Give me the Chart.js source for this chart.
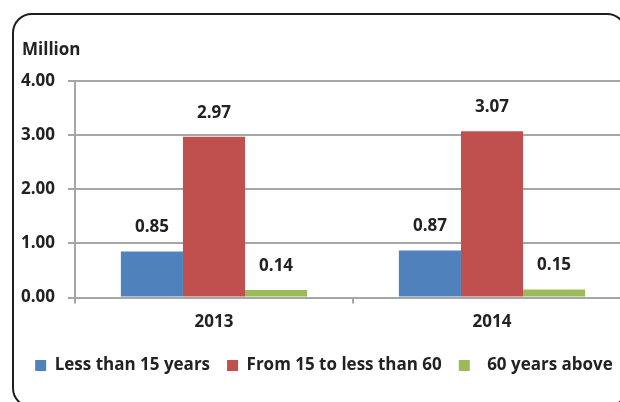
<!DOCTYPE html>
<html>
<head>
<meta charset="utf-8">
<script src="https://cdn.jsdelivr.net/npm/chart.js@4"></script>
<style>
  html, body { margin: 0; padding: 0; background: #fff; overflow: hidden; }
  body { width: 620px; height: 402px; position: relative; }
  #frame {
    position: absolute; left: 12px; top: 13px; width: 615px; height: 395px;
    border: 2px solid #1e1e1e; border-radius: 20px; box-sizing: border-box;
  }
  #wrap { position: absolute; left: 0; top: 0; width: 660px; height: 402px; }
</style>
</head>
<body>
<div id="frame"></div>
<div id="wrap"><canvas id="chart" width="660" height="402"></canvas></div>
<script>
"use strict";

// ── Data ────────────────────────────────────────────────────────────────────
const YEARS = ["2013", "2014"];
const SERIES_NAMES = ["Less than 15 years", "From 15 to less than 60", "  60 years above"];
const UNDER_15 = [0.85, 0.87];
const FROM_15_TO_60 = [2.97, 3.07];
const OVER_60 = [0.14, 0.15];
const Y_TICKS = [0, 1, 2, 3, 4];

// ── Styles ──────────────────────────────────────────────────────────────────
const COLORS = ["#4F81BD", "#C0504D", "#9BBB59"];
const GRID = "#a6a6a6";
const TEXT = "#222";
const FONT = { family: "'Open Sans', sans-serif", size: 17, weight: "bold" };

// value labels above each bar
const valueLabels = {
  id: "valueLabels",
  afterDatasetsDraw(chart) {
    const ctx = chart.ctx;
    ctx.save();
    ctx.font = `bold ${FONT.size}px ${FONT.family}`;
    ctx.fillStyle = TEXT;
    ctx.textAlign = "center";
    ctx.textBaseline = "middle";
    chart.data.datasets.forEach((ds, i) => {
      chart.getDatasetMeta(i).data.forEach((bar, j) => {
        ctx.fillText(ds.data[j].toFixed(2), bar.x, bar.y - 24);
      });
    });
    // unit label
    ctx.textAlign = "left";
    ctx.fillText("Million", 22, 50);
    ctx.restore();
  },
};

new Chart(document.getElementById("chart"), {
  type: "bar",
  data: {
    labels: YEARS,
    datasets: [UNDER_15, FROM_15_TO_60, OVER_60].map((d, i) => ({
      label: SERIES_NAMES[i],
      data: d,
      backgroundColor: COLORS[i],
      borderWidth: 0,
      barPercentage: 1,
      categoryPercentage: 0.67,
    })),
  },
  options: {
    responsive: false,
    animation: false,
    devicePixelRatio: 1,
    layout: { padding: { left: 17, top: 81, right: 29, bottom: 18 } },
    plugins: {
      title: { display: false },
      tooltip: { enabled: false },
      legend: {
        position: "bottom",
        labels: {
          boxWidth: 11,
          boxHeight: 11,
          padding: 17,
          color: TEXT,
          font: FONT,
        },
      },
    },
    scales: {
      x: {
        offset: true,
        grid: {
          display: true,
          drawOnChartArea: false,
          offset: true,
          color: GRID,
          lineWidth: 2,
          tickLength: 6,
        },
        border: { color: GRID, width: 2 },
        ticks: { color: TEXT, font: FONT, padding: 8 },
      },
      y: {
        min: 0,
        max: 4,
        afterBuildTicks: scale => { scale.ticks = Y_TICKS.map(v => ({ value: v })); },
        afterFit: scale => { scale.width = 58; },
        grid: { color: GRID, lineWidth: 2, tickLength: 7 },
        border: { color: GRID, width: 2 },
        ticks: {
          color: TEXT,
          font: FONT,
          padding: 13,
          callback: v => Number(v).toFixed(2),
        },
      },
    },
  },
  plugins: [valueLabels],
});
</script>
</body>
</html>
